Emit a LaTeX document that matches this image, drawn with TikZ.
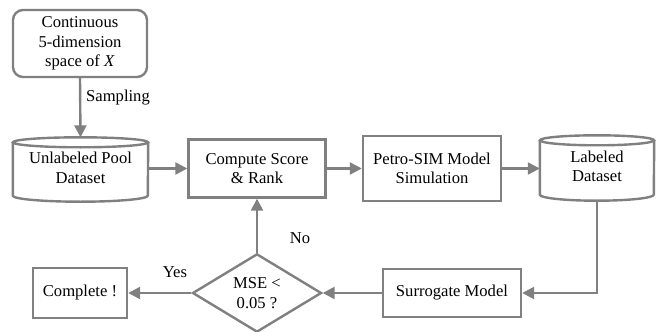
\documentclass[tikz,border=0pt]{standalone}
\usepackage{fontspec}
\setmainfont{Liberation Serif}
\newfontfamily\diagfont{Liberation Serif}
\usetikzlibrary{shapes.geometric,arrows.meta,calc}
\definecolor{linegray}{HTML}{808080}
\newcommand\cylout[2]{%
  \draw[edge] ([yshift=-5pt]#1.north) ellipse[x radius=#2, y radius=5pt];
  \draw[edge] ([yshift=-5pt]#1.north west) -- ([yshift=6pt]#1.south west)
     arc[start angle=180, end angle=360, x radius=#2, y radius=6pt]
     -- ([yshift=-5pt]#1.north east);
}
\begin{document}
\begin{tikzpicture}[x=1pt,y=-1pt,
  font=\diagfont\fontsize{16.6}{19.5}\selectfont,
  edge/.style={draw=linegray, line width=2.4pt},
  arr/.style={edge, -{Triangle[length=12pt,width=12pt]}},
  boxnode/.style={draw=linegray, line width=2.4pt, rectangle, inner sep=0pt, align=center},
  cylnode/.style={rectangle, inner sep=0pt, align=center},
  decision/.style={draw=linegray, line width=2.4pt, diamond, inner sep=0pt, align=center,
     minimum width=129pt, minimum height=76pt},
  lbl/.style={inner sep=0pt}
]
\useasboundingbox (0,0) rectangle (657,332);

\node[boxnode, rounded corners=10pt, minimum width=134pt, minimum height=67pt] (space) at (80,43.5)
  {Continuous\\5-dimension\\space of \textit{X}};
\node[cylnode, minimum width=135pt, minimum height=64pt] (pool) at (80.5,169.5)
  {\raisebox{-4pt}{\begin{tabular}{@{}c@{}}Unlabeled Pool\\Dataset\end{tabular}}};
\node[boxnode, minimum width=137pt, minimum height=58pt] (score) at (257,168.5)
  {Compute Score\\\& Rank};
\node[boxnode, minimum width=138pt, minimum height=65pt] (petro) at (432,168.5)
  {Petro-SIM Model\\Simulation};
\node[cylnode, minimum width=114pt, minimum height=65pt] (labeled) at (597,168)
  {\raisebox{-4pt}{\begin{tabular}{@{}c@{}}Labeled\\Dataset\end{tabular}}};
\node[boxnode, minimum width=138pt, minimum height=48pt] (surrogate) at (452,293)
  {Surrogate Model};
\node[decision] (mse) at (257,293) {MSE <\\0.05 ?};
\node[boxnode, minimum width=94pt, minimum height=50pt] (complete) at (80,293)
  {Complete !};

\cylout{pool}{67.5pt}
\cylout{labeled}{57pt}

\draw[arr] (space.south) -- (pool.north);
\node[lbl, anchor=west] (samp) at (86,98) {Sampling};
\draw[arr] (score.west -| pool.east) -- (score.west);
\draw[arr] (score.east) -- (petro.west);
\draw[arr] (petro.east) -- (petro.east -| labeled.west);
\draw[arr] (labeled.south) |- (surrogate.east);
\draw[arr] (surrogate.west) -- (mse.east);
\draw[arr] (mse.west) -- (complete.east);
\draw[arr] (mse.north) -- (score.south);
\node[lbl] (yes) at (175,272) {Yes};
\node[lbl] (no) at (300,238) {No};
\end{tikzpicture}
\end{document}
